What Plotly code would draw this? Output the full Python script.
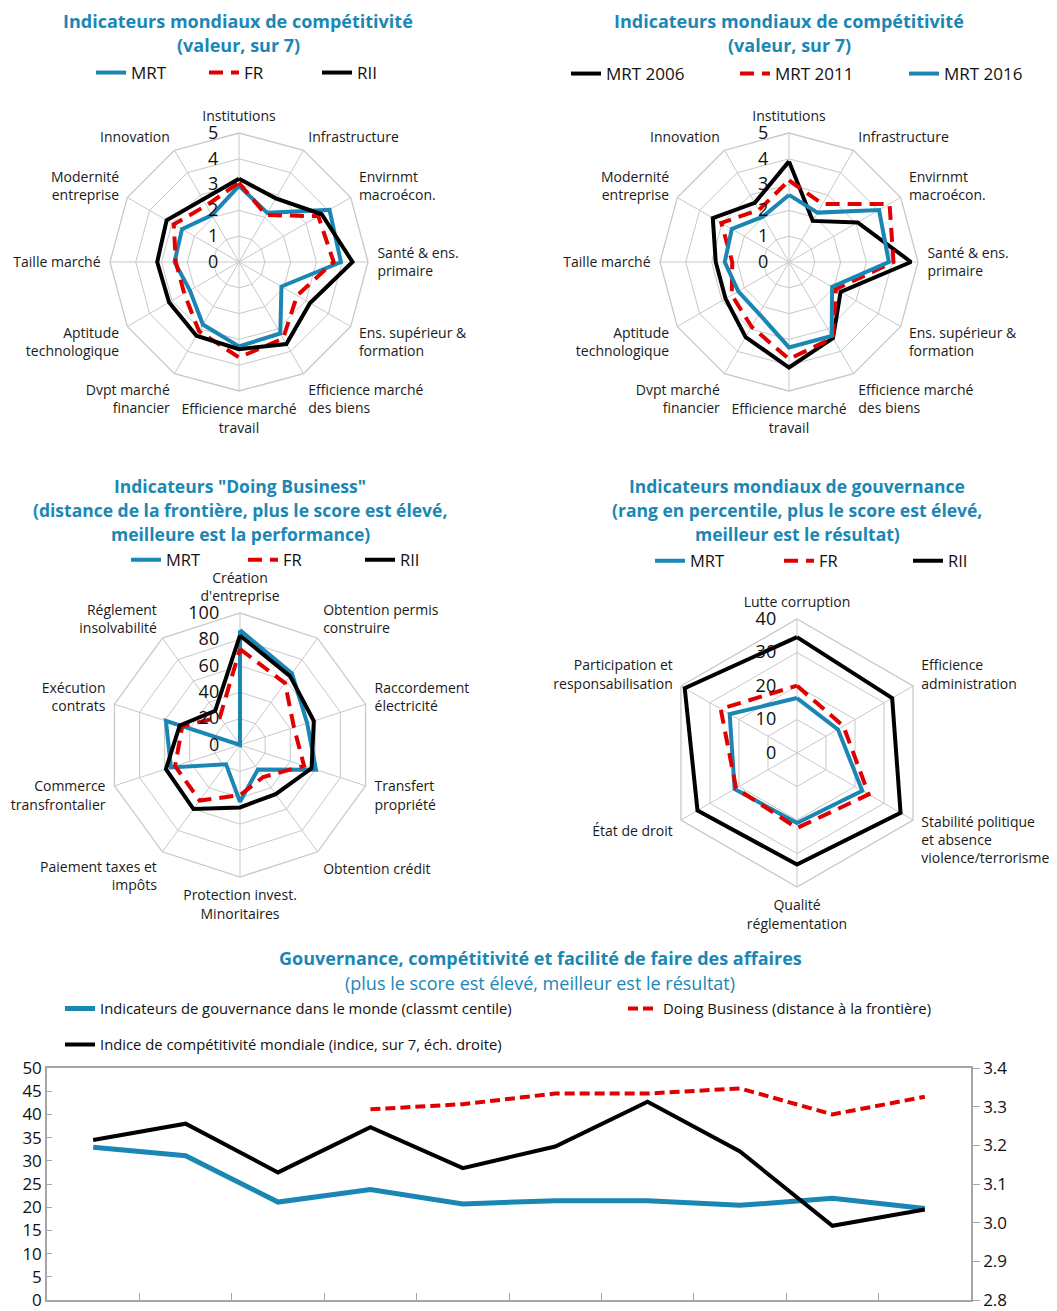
import plotly.graph_objects as go

W, H = 1057, 1311
OFF = 8  # page body margin compensation
BLUE = "#1a86b4"
RED = "#e00000"
BLACK = "#000000"
GRID = "#c8c8c8"
TEAL = "#1b87b4"
FONT = "Open Sans"

# ---------- Data ----------
gci_cats = ["Institutions", "Infrastructure", "Envirnmt<br>macroécon.", "Santé & ens.<br>primaire",
            "Ens. supérieur &<br>formation", "Efficience marché<br>des biens", "Efficience marché<br>travail",
            "Dvpt marché<br>financier", "Aptitude<br>technologique", "Taille marché",
            "Modernité<br>entreprise", "Innovation"]
gci_mrt = [2.95, 2.2, 4.05, 3.95, 1.9, 3.2, 3.27, 2.8, 2.2, 2.5, 2.55, 2.1]
gci_fr = [3.07, 2.1, 3.55, 3.67, 2.6, 3.42, 3.7, 3.1, 2.45, 2.45, 2.92, 2.53]
gci_rii = [3.23, 2.85, 3.7, 4.4, 3.18, 3.67, 3.38, 3.3, 3.13, 3.17, 3.24, 2.8]

gci_2006 = [3.9, 1.84, 3.07, 4.73, 2.31, 3.41, 4.09, 3.36, 2.84, 2.84, 3.41, 2.65]
gci_2011 = [3.16, 2.6, 4.5, 4.05, 2.1, 3.4, 3.76, 2.9, 2.56, 2.2, 3.03, 2.33]
gci_2016 = [2.6, 2.21, 4.03, 3.87, 1.93, 3.31, 3.31, 2.32, 2.27, 2.49, 2.56, 2.03]

db_cats = ["Création<br>d'entreprise", "Obtention permis<br>construire", "Raccordement<br>électricité",
           "Transfert<br>propriété", "Obtention crédit", "Protection invest.<br>Minoritaires",
           "Paiement taxes et<br>impôts", "Commerce<br>transfrontalier", "Exécution<br>contrats",
           "Réglement<br>insolvabilité"]
db_mrt = [87, 67, 53.5, 60.5, 23, 43, 18, 55, 59, 0]
db_fr = [72.7, 58, 43, 51, 30, 38, 52, 51.7, 46, 26]
db_rii = [83, 64.5, 58.8, 57, 46, 47.3, 60, 59, 48, 32]

wgi_cats = ["Lutte corruption", "Efficience<br>administration",
            "Stabilité politique<br>et absence<br>violence/terrorisme",
            "Qualité<br>réglementation", "État de droit", "Participation et<br>responsabilisation"]
wgi_mrt = [16.4, 14.1, 22.5, 20.9, 21.5, 23.2]
wgi_fr = [20.1, 16.0, 24.7, 22.4, 21.0, 26.3]
wgi_rii = [34.6, 32.8, 35.7, 33.3, 34.3, 38.7]

years = ["2007", "2008", "2009", "2010", "2011", "2012", "2013", "2014", "2015", "2016"]
gov_pct = [32.9, 31.1, 21.1, 23.8, 20.7, 21.4, 21.4, 20.4, 21.9, 19.7]
doing_business = [None, None, None, 41.1, 42.2, 44.5, 44.5, 45.6, 40.0, 43.8]
gci_index = [3.214, 3.256, 3.13, 3.247, 3.141, 3.197, 3.313, 3.184, 2.992, 3.034]


def px(x):
    return (x - OFF) / W


def py(y):
    return 1 - (y - OFF) / H


def closed(v):
    return list(v) + [v[0]]


def dom(cx, cy, r):
    return dict(x=[px(cx - r), px(cx + r)], y=[py(cy + r), py(cy - r)])


fig = go.Figure()


def radar(name, vals, cats, color, dash, polar, legend, order):
    fig.add_trace(go.Scatterpolar(
        r=closed(vals), theta=closed(cats), mode="lines", name=name,
        line=dict(color=color, width=4, dash=dash), subplot=polar,
        legend=legend, legendrank=order, hoverinfo="skip"))


DASH = "14px,8px"
radar("MRT", gci_mrt, gci_cats, BLUE, "solid", "polar", "legend", 1)
radar("FR", gci_fr, gci_cats, RED, DASH, "polar", "legend", 2)
radar("RII", gci_rii, gci_cats, BLACK, "solid", "polar", "legend", 3)

radar("MRT 2006", gci_2006, gci_cats, BLACK, "solid", "polar2", "legend2", 1)
radar("MRT 2011", gci_2011, gci_cats, RED, DASH, "polar2", "legend2", 2)
radar("MRT 2016", gci_2016, gci_cats, BLUE, "solid", "polar2", "legend2", 3)

radar("MRT", db_mrt, db_cats, BLUE, "solid", "polar3", "legend3", 1)
radar("FR", db_fr, db_cats, RED, DASH, "polar3", "legend3", 2)
radar("RII", db_rii, db_cats, BLACK, "solid", "polar3", "legend3", 3)

radar("MRT", wgi_mrt, wgi_cats, BLUE, "solid", "polar4", "legend4", 1)
radar("FR", wgi_fr, wgi_cats, RED, DASH, "polar4", "legend4", 2)
radar("RII", wgi_rii, wgi_cats, BLACK, "solid", "polar4", "legend4", 3)

# bottom line chart
fig.add_trace(go.Scatter(x=years, y=gov_pct, mode="lines", line=dict(color=BLUE, width=5),
                         name="Indicateurs de gouvernance dans le monde (classmt centile)",
                         legend="legend5", xaxis="x", yaxis="y", hoverinfo="skip"))
fig.add_trace(go.Scatter(x=years, y=doing_business, mode="lines", line=dict(color=RED, width=4, dash="10px,5px"),
                         name="Doing Business (distance à la frontière)",
                         legend="legend6", xaxis="x", yaxis="y", hoverinfo="skip"))
fig.add_trace(go.Scatter(x=years, y=gci_index, mode="lines", line=dict(color=BLACK, width=4),
                         name="Indice de compétitivité mondiale (indice, sur 7, éch. droite)",
                         legend="legend7", xaxis="x", yaxis="y2", hoverinfo="skip"))


def polar_layout(cx, cy, r, rmax, dtick):
    return dict(
        domain=dom(cx, cy, r), gridshape="linear", bgcolor="white",
        radialaxis=dict(range=[0, rmax], dtick=dtick, angle=90, side="counterclockwise",
                        tickangle=90, showline=False, ticks="outside", ticklen=14,
                        tickcolor="rgba(0,0,0,0)", gridcolor=GRID, gridwidth=1.3,
                        tickfont=dict(family=FONT, size=18, color="#111")),
        angularaxis=dict(direction="clockwise", rotation=90, gridcolor=GRID, gridwidth=1.3,
                         linecolor=GRID, linewidth=1.3, showline=True, ticks="outside",
                         ticklen=6, tickcolor="rgba(0,0,0,0)",
                         tickfont=dict(family=FONT, size=14, color="#1a1a1a")),
    )


def legend_layout(x, y, ew, size=17):
    return dict(x=px(x), y=py(y), xanchor="left", yanchor="middle", orientation="h",
                bgcolor="rgba(0,0,0,0)", font=dict(family=FONT, size=size, color="#111"),
                entrywidth=ew, entrywidthmode="pixels", traceorder="normal",
                itemclick=False, itemdoubleclick=False, tracegroupgap=0)


annotations = []


def title(lines, cx, y0, dy, size=18, bold=True):
    for i, t in enumerate(lines):
        annotations.append(dict(
            text=("<b>%s</b>" % t) if bold else t, x=px(cx), y=py(y0 + i * dy),
            xref="paper", yref="paper", showarrow=False, xanchor="center", yanchor="middle",
            borderpad=0, font=dict(family=FONT, size=size, color=TEAL)))


title(["Indicateurs mondiaux de compétitivité", "(valeur, sur 7)"], 238, 21, 24)
title(["Indicateurs mondiaux de compétitivité", "(valeur, sur 7)"], 789, 21, 24)
title(['Indicateurs "Doing Business"', "(distance de la frontière, plus le score est élevé,",
       "meilleure est la performance)"], 240, 486, 24, size=17.5)
title(["Indicateurs mondiaux de gouvernance", "(rang en percentile, plus le score est élevé,",
       "meilleur est le résultat)"], 797, 486, 24, size=17.5)
title(["Gouvernance, compétitivité et facilité de faire des affaires"], 540, 958, 25, size=18)
title(["(plus le score est élevé, meilleur est le résultat)"], 540, 983, 25, size=18, bold=False)

fig.update_layout(
    width=W, height=H, autosize=False,
    margin=dict(l=0, r=0, t=0, b=0, autoexpand=False),
    paper_bgcolor="white", plot_bgcolor="white",
    font=dict(family=FONT, color="#111"),
    showlegend=True,
    polar=polar_layout(239, 262, 129, 5, 1),
    polar2=polar_layout(789, 262, 129, 5, 1),
    polar3=polar_layout(240, 745, 132, 100, 20),
    polar4=polar_layout(797, 753, 134, 40, 10),
    legend=legend_layout(91, 73, 68),
    legend2=legend_layout(566, 74, 124),
    legend3=legend_layout(126, 560, 72, size=16.5),
    legend4=legend_layout(650, 561, 84, size=16.5),
    legend5=legend_layout(60, 1009, 520, size=14.8),
    legend6=legend_layout(623, 1009, 400, size=14.8),
    legend7=legend_layout(60, 1045, 520, size=14.8),
    xaxis=dict(domain=[px(47), px(971)], anchor="y", type="category", range=[-0.5, 9.5],
               showticklabels=False, ticks="inside", ticklen=7, tickcolor="#a6a6a6",
               tickson="boundaries", showline=True, linecolor="#a6a6a6", linewidth=1.5,
               mirror=True, showgrid=False, zeroline=False, automargin=False),
    yaxis=dict(domain=[py(1300), py(1068)], range=[0, 50], dtick=5, showgrid=False,
               zeroline=False, showline=True, linecolor="#a6a6a6", linewidth=1.5,
               ticks="inside", ticklen=5, tickcolor="#a6a6a6", automargin=False,
               tickfont=dict(family=FONT, size=17, color="#111")),
    yaxis2=dict(overlaying="y", side="right", anchor="x", range=[2.8, 3.4], dtick=0.1,
                tickformat=".1f", showgrid=False, zeroline=False, showline=True,
                linecolor="#a6a6a6", linewidth=1.5, ticks="outside", ticklen=7,
                tickcolor="#a6a6a6", automargin=False,
                tickfont=dict(family=FONT, size=17, color="#111")),
    annotations=annotations,
)

fig.write_html("out.html")
